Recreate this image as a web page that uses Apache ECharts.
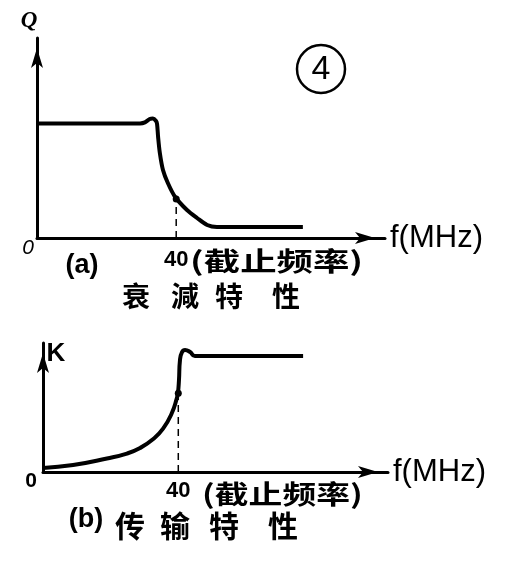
<!DOCTYPE html>
<html><head><meta charset="utf-8">
<script src="https://cdn.jsdelivr.net/npm/echarts@6/dist/echarts.min.js"></script>
<style>html,body{margin:0;padding:0;background:#fff}#c{width:513px;height:583px}</style>
</head><body><div id="c"></div>
<script>
// (a) 衰減特性 — attenuation vs frequency (MHz), relative units
const freqA  = [0, 29.6, 31.0, 32.4, 33.3, 34.2, 34.5, 34.8, 35.3, 36.2, 37.6, 39.7, 43.1, 46.0, 48.9, 51.7, 76.4];
const attenA = [57.3, 57.3, 57.8, 59.5, 59.8, 58.5, 57, 50.5, 42.5, 34, 27.5, 20.5, 14, 10, 6.5, 5.5, 5.5];
// (b) 传输特性 — transmission vs frequency (MHz)
const freqB  = [0, 8.9, 18.9, 24.8, 28.7, 32.5, 35.5, 38.1, 39.6, 39.9, 40.2, 40.5, 41.1, 42.0, 43.5, 44.9, 76.9];
const gainB  = [3.1, 5.4, 10.5, 14.3, 18.6, 25.4, 33.6, 45.7, 57.4, 61.2, 71.3, 86.8, 93.0, 94.6, 93.0, 89.9, 89.9];
// cutoff frequency and the curve value reached there
const cutoffFreq = 40;
const cutoffA = 19.5;
const cutoffB = 61;
const tickLabels = [40];
const xName = 'f(MHz)';

const pair = (xs, ys) => xs.map((x, i) => [x, ys[i]]);
const chart = echarts.init(document.getElementById('c'), null, {renderer: 'canvas'});

function xAxisCfg(idx, max, margin) {
  return {
    type: 'value', gridIndex: idx, min: 0, max: max,
    axisLine: {show: true, symbol: ['none', 'arrow'], symbolSize: [9, 20], symbolOffset: [0, -10],
      lineStyle: {color: '#000', width: 3}},
    axisTick: {show: false}, splitLine: {show: false},
    axisLabel: {customValues: tickLabels, color: '#000', fontSize: 22, fontWeight: 'bold',
      fontFamily: 'Liberation Sans', margin: margin},
    name: xName, nameLocation: 'end', nameGap: 5,
    nameTextStyle: {color: '#000', fontSize: 31, fontFamily: 'Liberation Sans', align: 'left', verticalAlign: 'middle'}
  };
}
function yAxisCfg(idx) {
  return {
    type: 'value', gridIndex: idx, min: 0, max: 100,
    axisLine: {show: true, symbol: ['none', 'arrow'], symbolSize: [9, 20], symbolOffset: [0, -10],
      lineStyle: {color: '#000', width: 3}},
    axisTick: {show: false}, splitLine: {show: false}, axisLabel: {show: false}
  };
}
function dashSeries(idx, yTop) {
  return {
    type: 'line', xAxisIndex: idx, yAxisIndex: idx, symbol: 'none', showSymbol: true,
    data: [[cutoffFreq, 0], {value: [cutoffFreq, yTop], symbol: 'circle', symbolSize: 7}],
    lineStyle: {color: '#000', width: 1.5, type: [7, 5]}, itemStyle: {color: '#000'},
    silent: true, animation: false, z: 1
  };
}
const cjk = '"Noto Sans CJK SC"';
function txt(text, x, y, size, opts) {
  opts = opts || {};
  return {type: 'text', x: x, y: y, scaleX: opts.sx || 1, silent: true,
    style: {text: text, fill: '#000', fontSize: size, fontFamily: opts.ff || cjk,
      fontWeight: opts.fw || 'normal', fontStyle: opts.fs || 'normal',
      textAlign: opts.align || 'center', textVerticalAlign: 'middle'}};
}
const charsA = ['衰', '減', '特', '性'];
const charsB = ['传', '输', '特', '性'];
const posA = [136, 185, 229, 286];
const posB = [130, 175, 224, 283];

chart.setOption({
  animation: false,
  backgroundColor: '#fff',
  grid: [
    {left: 37, top: 38, width: 348, height: 200, containLabel: false},
    {left: 43, top: 343, width: 345, height: 129, containLabel: false}
  ],
  xAxis: [xAxisCfg(0, 100, 11), xAxisCfg(1, 102, 8)],
  yAxis: [yAxisCfg(0), yAxisCfg(1)],
  series: [
    {type: 'line', xAxisIndex: 0, yAxisIndex: 0, data: pair(freqA, attenA), symbol: 'none',
      smooth: 0.3, lineStyle: {color: '#000', width: 4}, z: 3},
    {type: 'line', xAxisIndex: 1, yAxisIndex: 1, data: pair(freqB, gainB), symbol: 'none',
      smooth: 0.5, lineStyle: {color: '#000', width: 4}, z: 3},
    dashSeries(0, cutoffA),
    dashSeries(1, cutoffB)
  ],
  graphic: [
    {type: 'circle', silent: true, shape: {cx: 321, cy: 69, r: 24}, style: {fill: 'none', stroke: '#000', lineWidth: 2.5}},
    txt('4', 321, 70, 34, {ff: 'Liberation Sans'}),
    txt('Q', 29, 21, 23, {ff: 'Liberation Serif', fs: 'italic', fw: 'bold'}),
    txt('0', 28, 248, 21, {ff: 'Liberation Sans', fs: 'italic'}),
    txt('(a)', 82, 266, 27, {ff: 'Liberation Sans', fw: 'bold'}),
    txt('(截止频率)', 190, 261, 26, {align: 'left', sx: 1.4, fw: 'bold'}),
    ...charsA.map((c, i) => txt(c, posA[i], 296, 28, {fw: 'bold'})),
    txt('K', 56, 354, 26, {ff: 'Liberation Sans', fw: 'bold'}),
    txt('0', 31, 481, 21, {ff: 'Liberation Sans', fw: 'bold'}),
    txt('(b)', 86, 520, 27, {ff: 'Liberation Sans', fw: 'bold'}),
    txt('(截止频率)', 202, 494, 26, {align: 'left', sx: 1.3, fw: 'bold'}),
    ...charsB.map((c, i) => txt(c, posB[i], 526, 30, {fw: 'bold'}))
  ]
});
</script></body></html>
